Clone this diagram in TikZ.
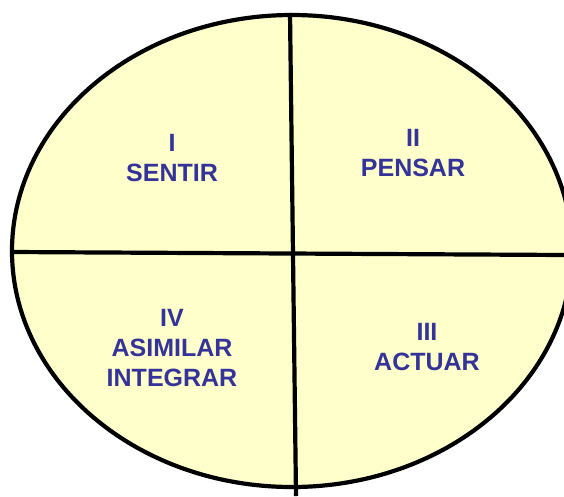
\documentclass[tikz,border=0pt]{standalone}
\usepackage{fontspec}
\setmainfont{Liberation Sans}
\definecolor{quadfill}{RGB}{255,255,204}
\definecolor{labelblue}{RGB}{51,51,153}
\tikzset{
  quadlabel/.style={align=center, text=labelblue, font=\fontsize{25}{30}\selectfont\bfseries, inner sep=0pt},
  divider/.style={line width=4.2pt, black},
}
\begin{document}
\begin{tikzpicture}[x=1pt, y=-1pt]
  \useasboundingbox (0,0) rectangle (564,496);
  \clip (0,0) rectangle (564,496);
  \draw[divider, fill=quadfill] (292,251) ellipse [x radius=280, y radius=236];
  \coordinate (top) at (290,13);
  \coordinate (bottom) at (296,496);
  \coordinate (left) at (12,252);
  \coordinate (right) at (566,255);
  \draw[divider] (top) -- (bottom);
  \draw[divider] (left) -- (right);
  \node[quadlabel] (q1) at (172,158) {I\\SENTIR};
  \node[quadlabel] (q2) at (413,153) {II\\PENSAR};
  \node[quadlabel] (q3) at (427,347) {III\\ACTUAR};
  \node[quadlabel] (q4) at (172,348) {IV\\ASIMILAR\\INTEGRAR};
\end{tikzpicture}
\end{document}
